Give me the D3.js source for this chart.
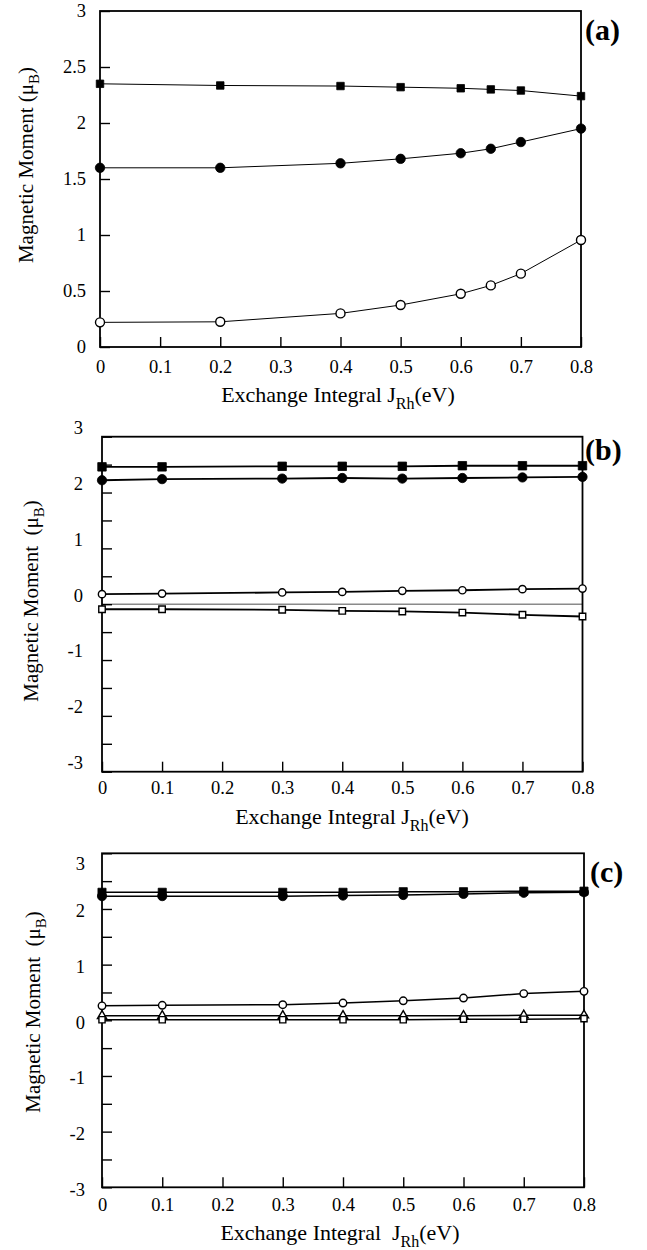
<!DOCTYPE html>
<html>
<head>
<meta charset="utf-8">
<script src="https://cdn.jsdelivr.net/npm/d3@7"></script>
<style>
body { margin: 0; background: #fff; }
svg { display: block; }
</style>
</head>
<body>
<div id="chart"></div>
<script>
// exchange integral J_Rh (eV) at which the moments were computed
var xValuesA = [0, 0.2, 0.4, 0.5, 0.6, 0.65, 0.7, 0.8];
var xValuesBC = [0, 0.1, 0.3, 0.4, 0.5, 0.6, 0.7, 0.8];

// tick values
var xTickValues = [0, 0.1, 0.2, 0.3, 0.4, 0.5, 0.6, 0.7, 0.8];
var yTicksA = [0, 0.5, 1, 1.5, 2, 2.5, 3];
var yTicksBC = [-3, -2.5, -2, -1.5, -1, -0.5, 0, 0.5, 1, 1.5, 2, 2.5, 3];

// panel (a) moments (mu_B)
var aFilledSquares = [2.35, 2.335, 2.33, 2.32, 2.31, 2.30, 2.29, 2.24];
var aFilledCircles = [1.60, 1.60, 1.64, 1.68, 1.73, 1.77, 1.83, 1.95];
var aOpenCircles = [0.22, 0.225, 0.30, 0.375, 0.475, 0.55, 0.655, 0.955];

// panel (b) moments (mu_B)
var bFilledSquares = [2.46, 2.46, 2.47, 2.47, 2.47, 2.48, 2.48, 2.48];
var bFilledCircles = [2.22, 2.24, 2.25, 2.26, 2.25, 2.26, 2.27, 2.28];
var bOpenCircles = [0.18, 0.19, 0.21, 0.22, 0.24, 0.25, 0.27, 0.28];
var bOpenSquares = [-0.09, -0.09, -0.10, -0.12, -0.13, -0.15, -0.19, -0.22];

// panel (c) moments (mu_B)
var cFilledSquares = [2.30, 2.30, 2.30, 2.30, 2.31, 2.31, 2.32, 2.32];
var cFilledCircles = [2.23, 2.23, 2.23, 2.24, 2.25, 2.27, 2.29, 2.30];
var cOpenCircles = [0.26, 0.27, 0.28, 0.31, 0.35, 0.40, 0.48, 0.52];
var cOpenTriangles = [0.08, 0.08, 0.08, 0.08, 0.08, 0.08, 0.09, 0.09];
var cOpenSquares = [0.01, 0.01, 0.01, 0.01, 0.01, 0.02, 0.02, 0.03];

var FONT = '"Liberation Serif", "Times New Roman", serif';

var svg = d3.select('#chart').append('svg')
    .attr('width', 647)
    .attr('height', 1250)
    .style('background', '#fff');

/**
 * Draws one panel of the figure
 */
function drawPanel(cfg)
{
    var x = d3.scaleLinear().domain([0, 0.8]).range([cfg.left, cfg.right]);
    var y = d3.scaleLinear().domain(cfg.yDomain).range([cfg.bottom, cfg.top]);

    var g = svg.append('g');

    // zero reference line (panel b)
    if (cfg.zeroLine) {
        g.append('line')
            .attr('x1', cfg.left).attr('x2', cfg.right)
            .attr('y1', y(0)).attr('y2', y(0))
            .style('stroke', '#8a8a8a')
            .style('stroke-width', 1.5);
    }

    // x axis, ticks pointing inward
    var xAxis = d3.axisBottom(x)
        .tickValues(xTickValues)
        .tickSizeInner(-10)
        .tickSizeOuter(0)
        .tickPadding(cfg.xLabelPad)
        .tickFormat(function(d) { return d === 0 ? '0' : d3.format('.1f')(d); });

    var gx = g.append('g')
        .attr('transform', 'translate(0,' + cfg.bottom + ')')
        .call(xAxis);

    // y axis, labels only on whole numbers for (b) and (c)
    var yAxis = d3.axisLeft(y)
        .tickValues(cfg.yTicks)
        .tickSizeInner(-10)
        .tickSizeOuter(0)
        .tickPadding(cfg.yLabelPad)
        .tickFormat(cfg.yFormat);

    var gy = g.append('g')
        .attr('transform', 'translate(' + cfg.left + ',0)')
        .call(yAxis);

    [gx, gy].forEach(function(ax) {
        ax.select('.domain').remove();
        ax.attr('font-family', FONT).attr('font-size', 18.5);
        ax.selectAll('line').style('stroke', '#000').style('stroke-width', 1.4);
        ax.selectAll('text').style('fill', '#000');
    });
    gy.selectAll('text').attr('y', cfg.yLabelShift);

    // frame
    g.append('rect')
        .attr('x', cfg.left)
        .attr('y', cfg.top)
        .attr('width', cfg.right - cfg.left)
        .attr('height', cfg.bottom - cfg.top)
        .style('fill', 'none')
        .style('stroke', '#000')
        .style('stroke-width', 1.8);

    var line = d3.line()
        .x(function(d) { return x(d[0]); })
        .y(function(d) { return y(d[1]); });

    cfg.series.forEach(function(s) {
        var pts = cfg.xValues.map(function(v, i) { return [v, s.values[i]]; });
        g.append('path')
            .attr('d', line(pts))
            .style('fill', 'none')
            .style('stroke', '#000')
            .style('stroke-width', cfg.lineWidth);
    });

    cfg.series.forEach(function(s) {
        var pts = cfg.xValues.map(function(v, i) { return [v, s.values[i]]; });
        g.selectAll(null)
            .data(pts)
            .enter()
            .append('path')
            .attr('transform', function(d) { return 'translate(' + x(d[0]) + ',' + y(d[1]) + ')'; })
            .attr('d', d3.symbol().type(s.symbol).size(s.size))
            .style('fill', s.filled ? '#000' : '#fff')
            .style('stroke', '#000')
            .style('stroke-width', s.filled ? 0.8 : 1.4);
    });

    // axis titles
    var xt = g.append('text')
        .attr('x', cfg.xTitle[0])
        .attr('y', cfg.xTitle[1])
        .attr('text-anchor', 'middle')
        .attr('font-family', FONT)
        .attr('font-size', 22)
        .style('white-space', 'pre');
    xt.append('tspan').text(cfg.xTitleText);
    xt.append('tspan').attr('dy', 7).attr('font-size', 16).text('Rh');
    xt.append('tspan').attr('dy', -7).text('(eV)');

    var yt = g.append('text')
        .attr('transform', 'translate(' + cfg.yTitle[0] + ',' + cfg.yTitle[1] + ') rotate(-90)')
        .attr('text-anchor', 'middle')
        .attr('font-family', FONT)
        .attr('font-size', 21)
        .style('white-space', 'pre');
    yt.append('tspan').text(cfg.yTitleText);
    yt.append('tspan').attr('dy', 6).attr('font-size', 15).text('B');
    yt.append('tspan').attr('dy', -6).text(')');

    // panel tag
    g.append('text')
        .attr('x', cfg.tag[0])
        .attr('y', cfg.tag[1])
        .attr('font-family', FONT)
        .attr('font-size', 30)
        .attr('font-weight', 'bold')
        .text(cfg.tagText);
}

var wholeOnly = function(d) { return Number.isInteger(d) ? String(d) : ''; };

drawPanel({
    left: 100, right: 581, top: 11, bottom: 347,
    yDomain: [0, 3], yTicks: yTicksA,
    yFormat: function(d) { return String(d); },
    yLabelShift: 0, xLabelPad: 13, yLabelPad: 14,
    xTitle: [338, 402], xTitleText: 'Exchange Integral J',
    yTitle: [33, 165], yTitleText: 'Magnetic Moment (\u03bc',
    tag: [585, 40], tagText: '(a)',
    lineWidth: 1, zeroLine: false,
    xValues: xValuesA,
    series: [
        {values: aFilledSquares, symbol: d3.symbolSquare, size: 56, filled: true},
        {values: aFilledCircles, symbol: d3.symbolCircle, size: 70, filled: true},
        {values: aOpenCircles, symbol: d3.symbolCircle, size: 64, filled: false}
    ]
});

drawPanel({
    left: 102, right: 582.5, top: 436.7, bottom: 771.7,
    yDomain: [-3, 3], yTicks: yTicksBC, yFormat: wholeOnly,
    yLabelShift: -9, xLabelPad: 9, yLabelPad: 19,
    xTitle: [352, 824], xTitleText: 'Exchange Integral J',
    yTitle: [38, 601], yTitleText: 'Magnetic Moment  (\u03bc',
    tag: [585, 460], tagText: '(b)',
    lineWidth: 1.8, zeroLine: true,
    xValues: xValuesBC,
    series: [
        {values: bFilledSquares, symbol: d3.symbolSquare, size: 72, filled: true},
        {values: bFilledCircles, symbol: d3.symbolCircle, size: 68, filled: true},
        {values: bOpenCircles, symbol: d3.symbolCircle, size: 42, filled: false},
        {values: bOpenSquares, symbol: d3.symbolSquare, size: 42, filled: false}
    ]
});

drawPanel({
    left: 102, right: 584, top: 853.3, bottom: 1187.3,
    yDomain: [-3, 3], yTicks: yTicksBC, yFormat: wholeOnly,
    yLabelShift: function(d) { return d === 3 ? 10 : 2; },
    xLabelPad: 11, yLabelPad: 17,
    xTitle: [340, 1240], xTitleText: 'Exchange Integral  J',
    yTitle: [40, 1012], yTitleText: 'Magnetic Moment  (\u03bc',
    tag: [590, 882], tagText: '(c)',
    lineWidth: 1.5, zeroLine: false,
    xValues: xValuesBC,
    series: [
        {values: cFilledSquares, symbol: d3.symbolSquare, size: 66, filled: true},
        {values: cFilledCircles, symbol: d3.symbolCircle, size: 66, filled: true},
        {values: cOpenCircles, symbol: d3.symbolCircle, size: 44, filled: false},
        {values: cOpenTriangles, symbol: d3.symbolTriangle, size: 36, filled: false},
        {values: cOpenSquares, symbol: d3.symbolSquare, size: 38, filled: false}
    ]
});
</script>
</body>
</html>
